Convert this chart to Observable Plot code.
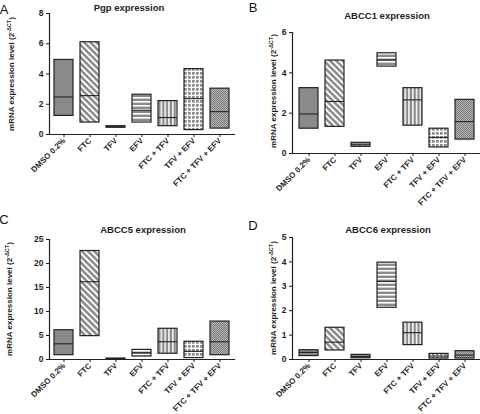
<!DOCTYPE html>
<html><head><meta charset="utf-8">
<script src="https://cdn.jsdelivr.net/npm/d3@7"></script>
<script src="https://cdn.jsdelivr.net/npm/@observablehq/plot@0.6"></script>
<style>
body{margin:0;background:#fff;}
#root{position:relative;width:480px;height:414px;overflow:hidden;font-family:"Liberation Sans",Arial,sans-serif;}
.panel{position:absolute;}
</style></head><body>
<svg width="0" height="0" style="position:absolute">
<defs>
<pattern id="pDiag" width="4.4" height="4.4" patternUnits="userSpaceOnUse" patternTransform="rotate(-45)">
  <rect width="4.4" height="4.4" fill="#8a8a8a"/><rect width="1.9" height="4.4" fill="#fff"/>
</pattern>
<pattern id="pDash" width="6" height="3" patternUnits="userSpaceOnUse">
  <rect width="6" height="3" fill="#8a8a8a"/><rect x="1" y="1" width="3.5" height="1" fill="#fff"/>
</pattern>
<pattern id="pH" width="4" height="4" patternUnits="userSpaceOnUse">
  <rect width="4" height="4" fill="#8a8a8a"/><rect y="1" width="4" height="1.6" fill="#fff"/>
</pattern>
<pattern id="pV" width="3.8" height="4" patternUnits="userSpaceOnUse">
  <rect width="3.8" height="4" fill="#8a8a8a"/><rect x="1" width="1.5" height="4" fill="#fff"/>
</pattern>
<pattern id="pGrid" width="4" height="4" patternUnits="userSpaceOnUse">
  <rect width="4" height="4" fill="#fff"/><rect x="0" y="0" width="2.7" height="2.7" fill="#8a8a8a"/>
</pattern>
<pattern id="pDots" width="2" height="2" patternUnits="userSpaceOnUse">
  <rect width="2" height="2" fill="#b4b4b4"/><rect width="1" height="1" fill="#7c7c7c"/><rect x="1" y="1" width="1" height="1" fill="#7c7c7c"/>
</pattern>
</defs></svg>
<div id="root"></div>
<script>
// ---- data ----
const categories = ["DMSO 0.2%", "FTC", "TFV", "EFV", "FTC + TFV", "TFV + EFV", "FTC + TFV + EFV"];

const pgpMin    = [1.23, 0.79, 0.45, 0.79, 0.55, 0.29, 0.39];
const pgpMax    = [4.93, 6.10, 0.55, 2.63, 2.21, 4.32, 3.03];
const pgpMedian = [2.48, 2.57, 0.50, 1.60, 1.12, 2.37, 1.51];
const pgpTicks  = [0, 2, 4, 6, 8];

const abcc1Min    = [1.23, 1.32, 0.33, 4.31, 1.38, 0.30, 0.69];
const abcc1Max    = [3.24, 4.61, 0.53, 4.97, 3.24, 1.23, 2.66];
const abcc1Median = [1.96, 2.58, 0.43, 4.64, 2.66, 0.80, 1.58];
const abcc1Ticks  = [0, 2, 4, 6];

const abcc5Min    = [0.90, 4.87, 0.05, 0.63, 1.20, 0.30, 0.90];
const abcc5Max    = [6.10, 22.6, 0.20, 2.00, 6.40, 3.70, 7.90];
const abcc5Median = [3.27, 16.2, 0.12, 1.40, 3.70, 1.70, 3.70];
const abcc5Ticks  = [0, 5, 10, 15, 20, 25];

const abcc6Min    = [0.14, 0.37, 0.05, 2.12, 0.59, 0.04, 0.04];
const abcc6Max    = [0.38, 1.30, 0.19, 3.97, 1.51, 0.23, 0.34];
const abcc6Median = [0.29, 0.71, 0.12, 3.20, 1.10, 0.14, 0.18];
const abcc6Ticks  = [0, 1, 2, 3, 4, 5];

// ---- styles ----
const fills = ["#8a8a8a", "url(#pDiag)", "url(#pDash)", "url(#pH)", "url(#pV)", "url(#pGrid)", "url(#pDots)"];
const FONT = "'Liberation Sans', Arial, sans-serif";

const panels = [
  {letter: "A", title: "Pgp expression", min: pgpMin, max: pgpMax, med: pgpMedian, ticks: pgpTicks,
   left: 0, top: 0, h: 205, ml: 49, mr: 6, yTop: 13, yZero: 134,
   lx: 4, ly: 14, tx: 129, ty: 11, yx: 14, yy: 74},
  {letter: "B", title: "ABCC1 expression", min: abcc1Min, max: abcc1Max, med: abcc1Median, ticks: abcc1Ticks,
   left: 240, top: 0, h: 205, ml: 52, mr: 0, yTop: 32, yZero: 153,
   lx: 13, ly: 12, tx: 147, ty: 19, yx: 36, yy: 91},
  {letter: "C", title: "ABCC5 expression", min: abcc5Min, max: abcc5Max, med: abcc5Median, ticks: abcc5Ticks,
   left: 0, top: 205, h: 209, ml: 49, mr: 6, yTop: 34, yZero: 154,
   lx: 4, ly: 19, tx: 143, ty: 28, yx: 12, yy: 94},
  {letter: "D", title: "ABCC6 expression", min: abcc6Min, max: abcc6Max, med: abcc6Median, ticks: abcc6Ticks,
   left: 240, top: 205, h: 209, ml: 52, mr: 0, yTop: 32, yZero: 154,
   lx: 13, ly: 25, tx: 148, ty: 28, yx: 36, yy: 93}
];

const root = document.getElementById("root");

for (const p of panels) {
  const rows = categories.map((c, i) => ({cat: c, lo: p.min[i], hi: p.max[i], med: p.med[i], pat: fills[i]}));
  const yMax = p.ticks[p.ticks.length - 1];
  const svg = Plot.plot({
    width: 240, height: p.h,
    marginLeft: p.ml, marginRight: p.mr, marginTop: p.yTop, marginBottom: p.h - p.yZero,
    style: {fontFamily: FONT, fontSize: "8px", fontWeight: "bold", color: "#1e1e1e", background: "transparent", overflow: "visible"},
    x: {domain: categories, paddingInner: 0.274, paddingOuter: 0.172, label: null},
    y: {domain: [0, yMax], label: null},
    color: {type: "identity"},
    marks: [
      Plot.barY(rows, {x: "cat", y1: "lo", y2: "hi", fill: "pat", stroke: "#222", strokeWidth: 1.2}),
      Plot.tickY(rows, {x: "cat", y: "med", stroke: "#222", strokeWidth: 1.1}),
      Plot.frame({anchor: "left", stroke: "#222", strokeWidth: 1.2}),
      Plot.frame({anchor: "bottom", stroke: "#222", strokeWidth: 1.2}),
      Plot.axisY({ticks: p.ticks, tickSize: 3, tickPadding: 3, label: null, fontSize: 8.5, tickFormat: d => String(d)}),
      Plot.axisX({tickSize: 3, tickPadding: 2, tickRotate: -45, label: null, fontSize: 8})
    ]
  });
  svg.classList.add("panel");
  svg.style.left = p.left + "px";
  svg.style.top = p.top + "px";
  const s = d3.select(svg);
  s.append("text").attr("x", p.lx).attr("y", p.ly)
    .attr("font-family", FONT).attr("font-size", 13).attr("font-weight", "normal").attr("fill", "#111")
    .text(p.letter);
  s.append("text").attr("x", p.tx).attr("y", p.ty).attr("text-anchor", "middle")
    .attr("font-family", FONT).attr("font-size", 9.5).attr("font-weight", "bold").attr("fill", "#1e1e1e")
    .text(p.title);
  const yl = s.append("text").attr("transform", `translate(${p.yx},${p.yy}) rotate(-90)`).attr("text-anchor", "middle")
    .attr("font-family", FONT).attr("font-size", 8).attr("font-weight", "bold").attr("fill", "#1e1e1e");
  yl.append("tspan").text("mRNA expression level (2");
  yl.append("tspan").attr("dy", -3).attr("font-size", 5.5).text("-ΔCT");
  yl.append("tspan").attr("dy", 3).text(")");
  root.appendChild(svg);
}
</script>
</body></html>
